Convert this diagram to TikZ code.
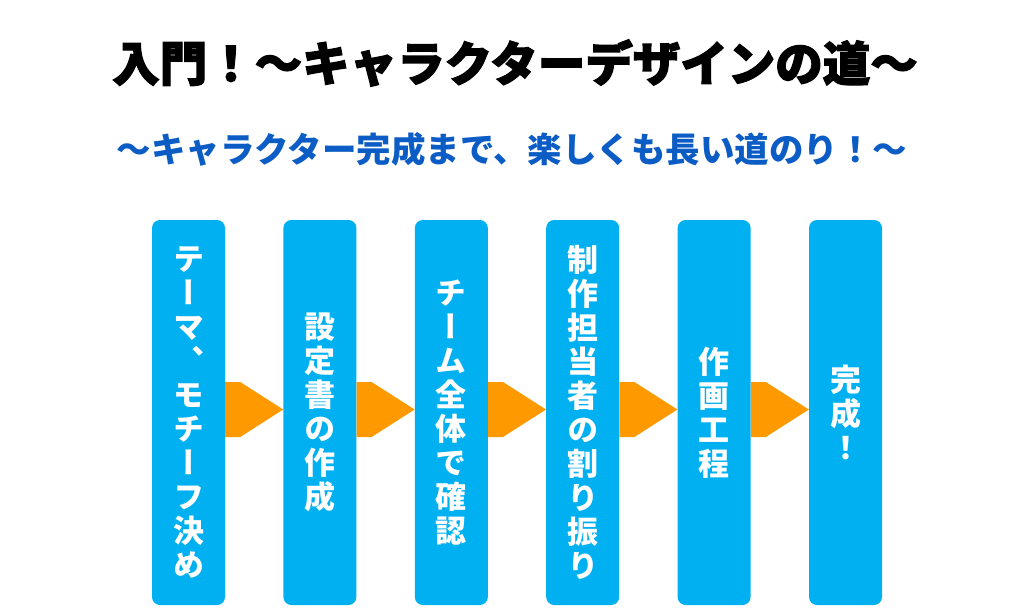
\documentclass[tikz,border=0pt]{standalone}
\usepackage{fontspec}
\newfontfamily\jpfont{Noto Sans CJK JP}
\newfontfamily\titlefont{Noto Sans CJK JP}[BoldFeatures={FakeBold=2.5}]
\newfontfamily\vjpfont{Noto Sans CJK JP}[RawFeature=+vert]
\usetikzlibrary{calc}

\definecolor{stepblue}{HTML}{00B0F0}
\definecolor{flowing}{HTML}{FF9900}
\definecolor{subblue}{HTML}{0B5CC4}

\tikzset{
  stepbox/.style={fill=stepblue, rounded corners=8pt, minimum width=73pt, minimum height=385pt,
    inner sep=0pt, text=white, align=center, font=\vjpfont\bfseries\fontsize{31}{34}\selectfont},
  flow/.style={fill=flowing}
}

\begin{document}
\begin{tikzpicture}[x=1pt,y=-1pt]
\useasboundingbox[fill=white] (0,0) rectangle (1024,607);

\node[text=black, font=\titlefont\bfseries\fontsize{47.5}{50}\selectfont] (title) at (515,63) {入門！～キャラクターデザインの道～};
\node[text=subblue, font=\jpfont\bfseries\fontsize{34.5}{36}\selectfont] (subtitle) at (512,149) {～キャラクター完成まで、楽しくも長い道のり！～};

\node[stepbox] (theme) at (188.5,412.5) {テ\\ー\\マ\\、\\モ\\チ\\ー\\フ\\決\\め};
\node[stepbox] (setting) at (319.9,412.5) {設\\定\\書\\の\\作\\成};
\node[stepbox] (check) at (451.3,412.5) {チ\\ー\\ム\\全\\体\\で\\確\\認};
\node[stepbox] (assign) at (582.7,412.5) {制\\作\\担\\当\\者\\の\\割\\り\\振\\り};
\node[stepbox] (drawing) at (714.1,412.5) {作\\画\\工\\程};
\node[stepbox] (done) at (845.5,412.5) {完\\成\\！};

% arrows between the steps
\fill[flow] ($(theme.east)+(0,-30.5)$) -- ++(15,0) -- ($(setting.west)+(0,-3)$) -- ($(theme.east)+(15,24.5)$) -- ($(theme.east)+(0,24.5)$) -- cycle;
\fill[flow] ($(setting.east)+(0,-30.5)$) -- ++(15,0) -- ($(check.west)+(0,-3)$) -- ($(setting.east)+(15,24.5)$) -- ($(setting.east)+(0,24.5)$) -- cycle;
\fill[flow] ($(check.east)+(0,-30.5)$) -- ++(15,0) -- ($(assign.west)+(0,-3)$) -- ($(check.east)+(15,24.5)$) -- ($(check.east)+(0,24.5)$) -- cycle;
\fill[flow] ($(assign.east)+(0,-30.5)$) -- ++(15,0) -- ($(drawing.west)+(0,-3)$) -- ($(assign.east)+(15,24.5)$) -- ($(assign.east)+(0,24.5)$) -- cycle;
\fill[flow] ($(drawing.east)+(0,-30.5)$) -- ++(15,0) -- ($(done.west)+(0,-3)$) -- ($(drawing.east)+(15,24.5)$) -- ($(drawing.east)+(0,24.5)$) -- cycle;
\end{tikzpicture}
\end{document}
